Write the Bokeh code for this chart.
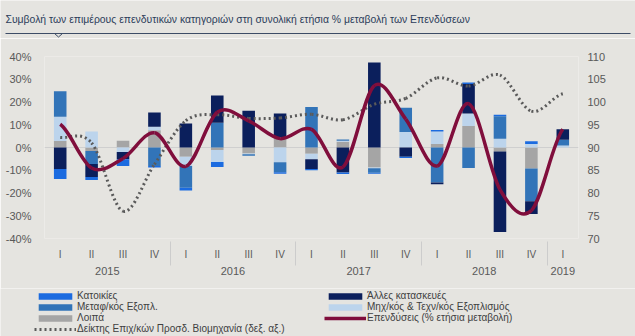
import numpy as np
from bokeh.plotting import figure
from bokeh.models import (ColumnDataSource, FactorRange, Range1d, LinearAxis, FixedTicker,
                          PrintfTickFormatter, Legend, Span)
from bokeh.layouts import column
from bokeh.embed import file_html
from bokeh.resources import INLINE
from bokeh.core.properties import value

TITLE = "Συμβολή των επιμέρους επενδυτικών κατηγοριών στη συνολική ετήσια % μεταβολή των Επενδύσεων"

years = ["2015"] * 4 + ["2016"] * 4 + ["2017"] * 4 + ["2018"] * 4 + ["2019"]
quarters = ["I", "II", "III", "IV"] * 4 + ["I"]

# contributions (percentage points)
housing = [-4.4, -1.3, -2.9, -0.7, -1.2, -2.2, 0.0, -0.6, -0.5, -0.7, -0.4, -0.5, 0.7, 0.7, 0.7, 1.2, 0.0]
other_constr = [-9.5, -5.8, -3.2, 6.3, 10.5, 12.0, 16.2, 10.5, -4.3, -11.0, 37.4, -4.1, -0.7, 12.9, -35.3, -5.6, 4.6]
transport = [11.2, -5.7, 0.0, -8.1, -9.6, 10.9, -0.6, -4.4, 17.8, 0.5, -2.0, 10.7, -15.4, -9.0, 9.8, -14.4, 2.5]
machinery = [10.6, 7.0, -2.0, 1.5, -4.0, -5.3, -0.4, -6.5, -2.5, 0.5, -0.3, 6.8, 5.5, 5.6, 3.9, 1.5, 0.9]
other = [2.9, -1.5, 3.0, 7.6, -4.1, -1.1, -2.6, 4.5, -2.7, 2.5, -8.8, 0.0, 1.5, 9.4, -1.8, -9.2, 0.0]

# total investment, % y-o-y (left axis)
investment = [10.2, -9.0, -4.8, 6.5, -8.3, 15.5, 11.7, 3.9, 8.0, -8.6, 27.2, 12.5, -8.1, 19.3, -18.5, -27.7, 8.0]
# business expectations index in industry (right axis)
industry_idx = [92.2, 91.0, 76.0, 86.3, 95.9, 97.2, 96.4, 96.5, 97.3, 96.1, 99.5, 100.8, 105.3, 103.5, 105.9, 98.0, 101.8]

series_names = ["Λοιπά", "Μηχ/κός & Τεχν/κός Εξοπλισμός", "Μεταφ/κός Εξοπλ.", "Άλλες κατασκευές", "Κατοικίες"]
series_vals = [other, machinery, transport, other_constr, housing]
series_colors = ["#a5a5a5", "#bcd4ec", "#3274b8", "#0b1f5c", "#1b6be0"]

IDX_NAME = "Δείκτης Επιχ/κών Προσδ. Βιομηχανία (δεξ. αξ.)"
INV_NAME = "Επενδύσεις (% ετήσια μεταβολή)"
IDX_COLOR = "#5a5a5a"
INV_COLOR = "#800e3c"

BG = "#e5e4e0"
TXT = "#595959"
FONT = "Liberation Sans"

factors = list(zip(years, quarters))

p = figure(width=635, height=250,
           x_range=FactorRange(*factors, factor_padding=0, group_padding=0,
                               subgroup_padding=0, range_padding=0),
           y_range=Range1d(-40, 40),
           output_backend="svg", toolbar_location=None,
           min_border_left=44, min_border_right=57, min_border_top=18, min_border_bottom=50,
           background_fill_color=BG, border_fill_color=BG, outline_line_color=None)
p.xgrid.visible = False
p.ygrid.visible = False
p.extra_y_ranges = {"idx": Range1d(70, 110)}

p.add_layout(Span(location=0, dimension="width", line_color="#cfcfcf", line_width=1, level="underlay"))

# stacked bars, positives and negatives stacked separately
pos_base = np.zeros(len(factors))
neg_base = np.zeros(len(factors))
for name, vals, col in zip(series_names, series_vals, series_colors):
    v = np.array(vals, dtype=float)
    bottom = np.where(v >= 0, pos_base, neg_base)
    top = bottom + v
    src = ColumnDataSource(dict(x=factors, b=bottom, t=top))
    p.vbar(x="x", bottom="b", top="t", width=0.4, source=src,
           fill_color=col, line_color=None)
    pos_base = pos_base + np.where(v > 0, v, 0)
    neg_base = neg_base + np.where(v < 0, v, 0)


def smooth_source(vals):
    vals = list(vals)
    n = len(vals)
    xs = np.arange(n) + 0.5
    d = dict(x0=[], y0=[], x1=[], y1=[], cx0=[], cy0=[], cx1=[], cy1=[])
    for i in range(n - 1):
        pp = vals[max(i - 1, 0)]
        p0 = vals[i]
        p1 = vals[i + 1]
        pn = vals[min(i + 2, n - 1)]
        d["x0"].append(xs[i]); d["y0"].append(p0)
        d["x1"].append(xs[i + 1]); d["y1"].append(p1)
        d["cx0"].append(xs[i] + 1 / 3); d["cy0"].append(p0 + (p1 - pp) / 6)
        d["cx1"].append(xs[i + 1] - 1 / 3); d["cy1"].append(p1 - (pn - p0) / 6)
    return ColumnDataSource(d)


p.bezier(x0="x0", y0="y0", x1="x1", y1="y1", cx0="cx0", cy0="cy0", cx1="cx1", cy1="cy1",
         source=smooth_source(industry_idx), line_color=IDX_COLOR, line_width=3,
         line_dash="2 3", y_range_name="idx")
p.bezier(x0="x0", y0="y0", x1="x1", y1="y1", cx0="cx0", cy0="cy0", cx1="cx1", cy1="cy1",
         source=smooth_source(investment), line_color=INV_COLOR, line_width=3.5)

# axes
p.yaxis.ticker = FixedTicker(ticks=list(range(-40, 41, 10)))
p.yaxis.formatter = PrintfTickFormatter(format="%d%%")
p.yaxis.major_label_standoff = 7
ax_r = LinearAxis(y_range_name="idx", ticker=FixedTicker(ticks=list(range(70, 111, 5))))
ax_r.major_label_standoff = 3
p.add_layout(ax_r, "right")

for ax in p.yaxis + [ax_r]:
    ax.axis_line_color = None
    ax.major_tick_line_color = None
    ax.minor_tick_line_color = None
    ax.major_label_text_color = TXT
    ax.major_label_text_font = FONT
    ax.major_label_text_font_size = "11px"

xa = p.xaxis[0]
xa.axis_line_color = None
xa.major_tick_line_color = None
xa.minor_tick_line_color = None
xa.major_label_text_color = TXT
xa.major_label_text_font = FONT
xa.major_label_text_font_size = "10px"
xa.major_label_standoff = 4
xa.group_text_color = TXT
xa.group_text_font = FONT
xa.group_text_font_size = "11px"
xa.group_text_font_style = "normal"
xa.separator_line_color = "#cccccc"
xa.separator_line_width = 1


def strip(height, xr, yr):
    f = figure(width=635, height=height, x_range=xr, y_range=yr,
               x_axis_type=None, y_axis_type=None, min_border=0,
               output_backend="svg", toolbar_location=None,
               background_fill_color=BG, border_fill_color=BG, outline_line_color=None)
    f.grid.visible = False
    try:
        f.frame_align = False
    except Exception:
        pass
    return f


# legend strip: key samples are parked outside the strip's visible range,
# only their legend swatches show
lg = strip(48, Range1d(0, 1), Range1d(0, 1))
key = {}
for name, col in zip(series_names, series_colors):
    key[name] = lg.vbar(x=[5], bottom=[5], top=[6], width=0.1, fill_color=col, line_color=None)
key[IDX_NAME] = lg.line(x=[5, 6], y=[5, 5], line_color=IDX_COLOR, line_width=3, line_dash="2 3")
key[INV_NAME] = lg.line(x=[5, 6], y=[5, 5], line_color=INV_COLOR, line_width=3.5)

leg_common = dict(background_fill_alpha=0, border_line_color=None, padding=0, margin=0,
                  spacing=-1, label_text_font=FONT, label_text_font_size="10px",
                  label_text_color="#404040", glyph_width=42, glyph_height=8,
                  label_standoff=1, label_height=10)
col1 = ["Κατοικίες", "Μεταφ/κός Εξοπλ.", "Λοιπά", IDX_NAME]
col2 = ["Άλλες κατασκευές", "Μηχ/κός & Τεχν/κός Εξοπλισμός", INV_NAME]
leg1 = Legend(items=[(n, [key[n]]) for n in col1], location=(34, 2), **leg_common)
leg2 = Legend(items=[(n, [key[n]]) for n in col2], location=(324, 13), **leg_common)
lg.add_layout(leg1)
lg.add_layout(leg2)

# title strip with underline and small pointer notch
t = strip(38, Range1d(0, 635), Range1d(0, 38))
t.text(x=[5], y=[19], text=[TITLE], text_font=value(FONT), text_font_size="10.4px",
       text_color="#2b3c5a", text_baseline="middle", text_align="left")
t.segment(x0=[5], y0=[5], x1=[630], y1=[5], line_color="#3d4c66", line_width=1.2)
t.line(x=[54, 58, 62], y=[5, 1.5, 5], line_color="#3d4c66", line_width=1)

layout = column(t, p, lg, spacing=0)
open("out.html", "w").write(file_html(layout, INLINE))
